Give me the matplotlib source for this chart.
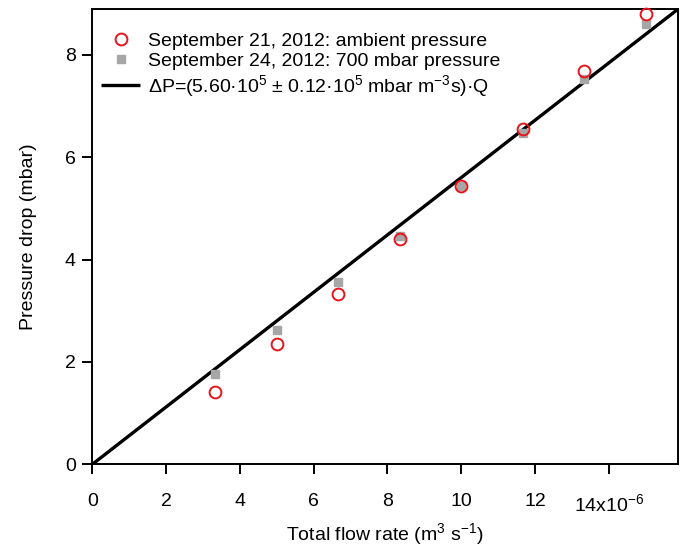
import matplotlib
matplotlib.use("Agg")
import matplotlib.pyplot as plt
import numpy as np

plt.rcParams['font.family'] = ['Liberation Sans', 'DejaVu Sans']
plt.rcParams['mathtext.default'] = 'regular'

# data (flow in 1e-6 m^3/s, pressure drop in mbar)
flow = [3.33, 5.0, 6.67, 8.33, 10.0, 11.67, 13.33, 15.0]
dp_sep21 = [1.42, 2.35, 3.33, 4.41, 5.43, 6.55, 7.69, 8.80]
dp_sep24 = [1.76, 2.62, 3.57, 4.46, 5.43, 6.48, 7.53, 8.61]
slope = 5.60e5  # mbar m^-3 s
xticks = [0, 2, 4, 6, 8, 10, 12, 14]
xticklabels = ['0', '2', '4', '6', '8', '10', '12', '14x10$^{-6}$']
yticks = [0, 2, 4, 6, 8]

fig = plt.figure(figsize=(6.93, 5.48), dpi=100)
ax = fig.add_axes([0.1332, 0.1527, 0.978 - 0.1332, 0.983 - 0.1527])

xmax = 15.87
ymax = slope * xmax * 1e-6

fs = 14

xq = np.array([0, xmax])
ax.plot(xq, slope * xq * 1e-6, color='black', lw=2.4, solid_capstyle='butt',
        label='ΔP=(5.60·10$^{5}$ ± 0.12·10$^{5}$ mbar m$^{-3}$s)·Q', zorder=2)
ax.plot(flow, dp_sep24, linestyle='none', marker='s', ms=6, color='#a6a6a6',
        mec='#a6a6a6', label='September 24, 2012: 700 mbar pressure', zorder=3)
ax.plot(flow, dp_sep21, linestyle='none', marker='o', ms=8.5, mfc='none',
        mec='#e8141c', mew=1.4, label='September 21, 2012: ambient pressure',
        zorder=4, clip_on=False)

ax.set_xlim(0, xmax)
ax.set_ylim(0, ymax)
ax.set_xticks(xticks)
ax.set_xticklabels(xticklabels)
ax.set_yticks(yticks)
for s in ax.spines.values():
    s.set_linewidth(1.4)
ax.tick_params(direction='out', length=7, width=1.4, labelsize=fs, pad=5)
ax.tick_params(axis='x', pad=14)
ax.set_xlabel('Total flow rate (m$^{3}$ s$^{-1}$)', fontsize=fs, labelpad=4)
ax.set_ylabel('Pressure drop (mbar)', fontsize=fs, labelpad=20)

h, l = ax.get_legend_handles_labels()
order = [2, 1, 0]
ax.legend([h[i] for i in order], [l[i] for i in order], loc='upper left',
          frameon=False, fontsize=fs, handlelength=2.0, handletextpad=0.4,
          labelspacing=0.15, bbox_to_anchor=(-0.008, 0.98), borderaxespad=0.3)

fig.savefig('out.png', dpi=100)
